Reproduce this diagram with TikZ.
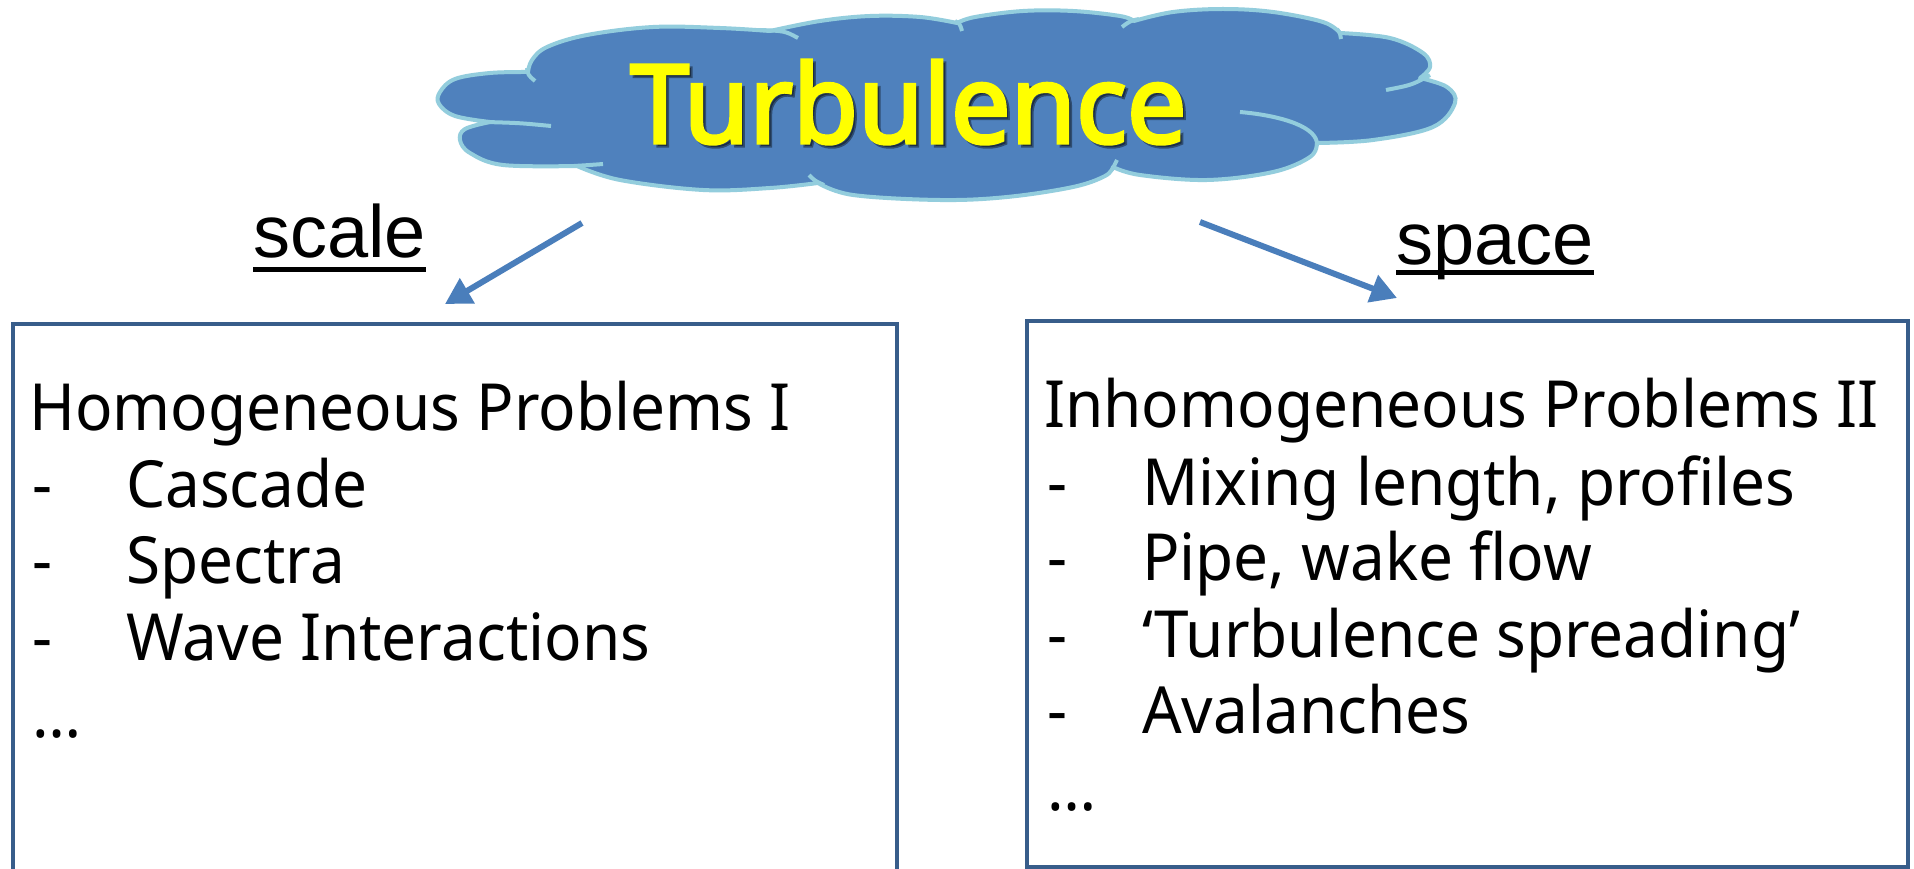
\documentclass[tikz,border=0pt]{standalone}
\usepackage{fontspec}
\setmainfont{Noto Sans}
\newfontfamily\bodyfont[FakeStretch=0.955]{Noto Sans}
\newfontfamily\titlefont[FakeBold=3]{Noto Sans}
\newfontfamily\arialfont{Liberation Sans}
\usetikzlibrary{arrows.meta}
\definecolor{cloudfill}{HTML}{4F81BD}
\definecolor{cloudline}{HTML}{93CDDD}
\definecolor{arrowblue}{HTML}{4A7EBB}
\definecolor{boxline}{HTML}{385D8A}
\definecolor{titleyellow}{HTML}{FFFF00}
\begin{document}
\begin{tikzpicture}[x=1pt,y=-1pt,
  cloudedge/.style={draw=cloudline, line width=4pt, fill=cloudfill, line join=round},
  cloudinner/.style={draw=cloudline, line width=4pt},
  flow/.style={draw=arrowblue, line width=6pt, -{Triangle[length=26pt,width=28pt]}},
  panel/.style={draw=boxline, line width=4pt, rectangle, inner sep=0pt},
  bodytext/.style={font=\bodyfont\fontsize{65}{76}\selectfont, inner sep=0pt, anchor=base west},
  labeltext/.style={font=\arialfont\fontsize{74}{80}\selectfont, inner sep=0pt, anchor=base west},
  uline/.style={draw=black, line width=5pt},
  titletext/.style={inner sep=0pt, anchor=base west, font=\titlefont},
]
\useasboundingbox (0,0) rectangle (1914,869);
\clip (0,0) rectangle (1914,869);
\fill[white] (0,0) rectangle (1914,869);

% cloud
\path[cloudedge]
  plot[smooth,tension=0.6] coordinates {(490,122) (455,116) (439,104) (440,92) (455,79) (490,73) (528,72)}
  -- plot[smooth,tension=0.6] coordinates {(528,72) (532,60) (547,47) (587,35) (653,27) (720,28) (770,31)}
  -- plot[smooth,tension=0.6] coordinates {(770,31) (820,21) (870,16) (920,17) (957,23)}
  -- plot[smooth,tension=0.6] coordinates {(957,23) (975,17) (1023,11) (1073,11) (1120,16) (1134,21)}
  -- plot[smooth,tension=0.6] coordinates {(1134,21) (1173,12) (1223,9) (1273,12) (1323,22) (1340,33)}
  -- plot[smooth,tension=0.6] coordinates {(1340,33) (1390,38) (1423,53) (1430,67) (1420,78)}
  -- plot[smooth,tension=0.6] coordinates {(1420,78) (1447,87) (1455,103) (1433,127) (1373,140) (1317,143)}
  -- plot[smooth,tension=0.6] coordinates {(1317,143) (1310,157) (1273,172) (1207,180) (1140,175) (1113,167)}
  -- plot[smooth,tension=0.6] coordinates {(1113,167) (1105,176) (1073,187) (1007,197) (940,200) (853,195) (818,183)}
  -- plot[smooth,tension=0.6] coordinates {(818,183) (770,188) (703,190) (620,180) (577,166)}
  -- plot[smooth,tension=0.6] coordinates {(577,166) (503,165) (470,153) (460,140) (465,129) (490,122)}
  -- cycle;
% inner arcs of the cloud
\draw[cloudinner] (527,68) .. controls (528,75) .. (535,81);
\draw[cloudinner] (760,30) .. controls (785,31) .. (798,38);
\draw[cloudinner] (955,21) .. controls (960,24) .. (962,31);
\draw[cloudinner] (1139,19) .. controls (1130,21) .. (1122,27);
\draw[cloudinner] (1337,29) .. controls (1340,33) .. (1341,39);
\draw[cloudinner] (1430,75) .. controls (1412,85) .. (1386,90);
\draw[cloudinner] (1240,112) .. controls (1285,116) and (1318,128) .. (1317,145);
\draw[cloudinner] (1112,170) .. controls (1114,165) .. (1117,160);
\draw[cloudinner] (824,185) .. controls (815,181) .. (809,175);
\draw[cloudinner] (574,166) .. controls (590,165) .. (603,164);
\draw[cloudinner] (486,122) .. controls (520,123) .. (551,126);

% title
\node[titletext, text=black, opacity=0.4] (titleshadow) at (633,146) {\resizebox{556pt}{83pt}{Turbulence}};
\node[titletext, text=titleyellow] (title) at (630,143) {\resizebox{556pt}{83pt}{Turbulence}};

% arrows
\coordinate (ltail) at (582,223);
\coordinate (lhead) at (445,304);
\coordinate (rtail) at (1200,222);
\coordinate (rhead) at (1397,298);
\draw[flow] (ltail) -- (lhead);
\draw[flow] (rtail) -- (rhead);

% labels
\node[labeltext] (scalelbl) at (253,258) {scale};
\draw[uline] ([yshift=-11pt]scalelbl.base west) -- ([yshift=-11pt]scalelbl.base east);
\node[labeltext] (spacelbl) at (1396,264) {space};
\draw[uline] ([yshift=-8.5pt]spacelbl.base west) -- ([yshift=-8.5pt]spacelbl.base east);

% boxes
\node[panel, minimum width=884.5pt, minimum height=676.5pt] (lbox) at (454.75,661.75) {};
\node[panel, minimum width=881pt, minimum height=546.5pt] (rbox) at (1467.5,593.75) {};

% left text
\node[bodytext] (lh) at (29,430) {Homogeneous Problems I};
\node[bodytext] (ld1) at (32,507) {-};
\node[bodytext] (li1) at (126,507) {Cascade};
\node[bodytext] (ld2) at (32,583) {-};
\node[bodytext] (li2) at (126,583) {Spectra};
\node[bodytext] (ld3) at (32,660) {-};
\node[bodytext] (li3) at (126,660) {Wave Interactions};
\node[bodytext] (ldots) at (32,737) {…};

% right text
\node[bodytext] (rh) at (1044,427) {Inhomogeneous Problems II};
\node[bodytext] (rd1) at (1047,505) {-};
\node[bodytext] (ri1) at (1142,505) {Mixing length, profiles};
\node[bodytext] (rd2) at (1047,580) {-};
\node[bodytext] (ri2) at (1142,580) {Pipe, wake flow};
\node[bodytext] (rd3) at (1047,657) {-};
\node[bodytext] (ri3) at (1142,657) {‘Turbulence spreading’};
\node[bodytext] (rd4) at (1047,733) {-};
\node[bodytext] (ri4) at (1142,733) {Avalanches};
\node[bodytext] (rdots) at (1047,810) {…};
\end{tikzpicture}
\end{document}
